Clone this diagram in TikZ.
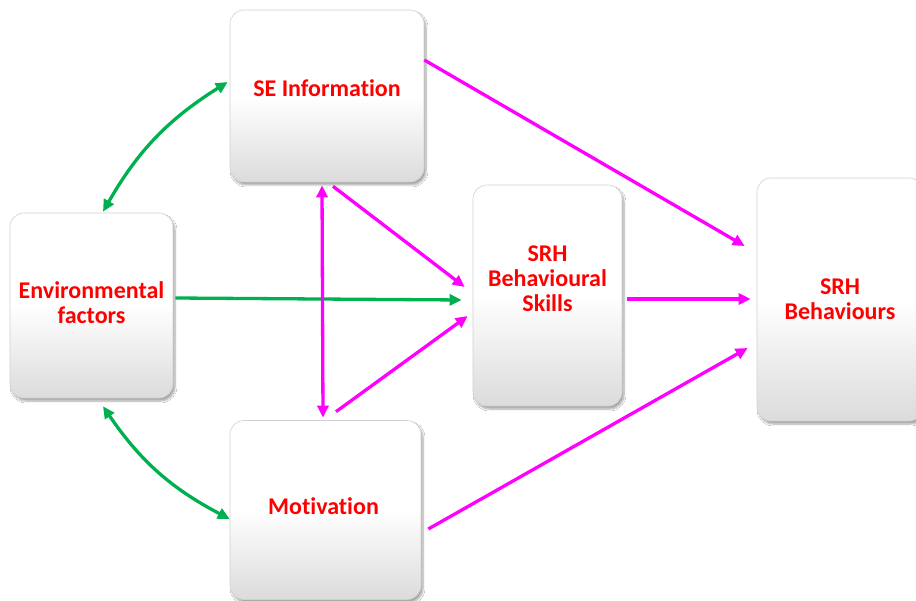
\documentclass[tikz,border=0pt]{standalone}
\usepackage{fontspec}
\setmainfont{Carlito}[Ligatures=NoCommon]
\usetikzlibrary{arrows.meta,shadows.blur}
\definecolor{mag}{RGB}{255,0,255}
\definecolor{grn}{RGB}{0,176,80}
\definecolor{txtred}{RGB}{255,0,0}
\begin{document}
\begin{tikzpicture}[x=1pt,y=-1pt,
  box/.style={rectangle, rounded corners=14pt, draw=black!18, line width=0.6pt,
    top color=white, bottom color=black!14, middle color=white,
    blur shadow={shadow xshift=2pt,shadow yshift=-3pt,shadow blur steps=6,shadow opacity=35},
    inner sep=0pt},
  lbl/.style={font=\fontsize{24}{25}\selectfont\bfseries, text=txtred, align=center, inner sep=0pt},
  >={Triangle[length=12pt,width=11pt]},
  mline/.style={draw=mag, line width=3.3pt},
  gline/.style={draw=grn, line width=3.3pt}]
\useasboundingbox (0,0) rectangle (916,601);
\clip (0,0) rectangle (916,601);
\fill[white] (0,0) rectangle (916,601);

% boxes
\node[box, minimum width=194pt, minimum height=172pt] (se) at (327,96) {};
\node[box, minimum width=163pt, minimum height=185pt] (env) at (91.5,305.5) {};
\node[box, minimum width=149pt, minimum height=221pt] (skills) at (547.5,295.5) {};
\node[box, minimum width=166pt, minimum height=243pt] (beh) at (840,299.5) {};
\node[box, minimum width=191pt, minimum height=179pt] (mot) at (325.5,510) {};

% labels
\node[lbl] (seT) at ([yshift=8pt]se.center) {SE Information};
\node[lbl] (envT) at ([yshift=3pt]env.center) {Environmental\\factors};
\node[lbl] (skillsT) at ([yshift=17pt]skills.center) {SRH\\Behavioural\\Skills};
\node[lbl] (behT) at ([yshift=0pt]beh.center) {SRH\\Behaviours};
\node[lbl] (motT) at ([xshift=-2pt,yshift=4pt]mot.center) {Motivation};

% green connectors
\draw[gline, <->] ([xshift=11.5pt,yshift=1pt]env.north) to[bend left=14] ([xshift=-2pt,yshift=14pt]se.west);
\draw[gline, <->] ([xshift=11.5pt,yshift=-8pt]env.south) to[bend right=14] ([yshift=-9pt]mot.west);
\draw[gline, ->] ([xshift=2pt,yshift=7.5pt]env.east) -- ([xshift=-11pt,yshift=-4.5pt]skills.west);

% magenta connectors
\draw[mline, ->] ([yshift=36pt]se.east) -- ([xshift=-12pt,yshift=53.5pt]beh.west);
\draw[mline, ->] ([xshift=6pt,yshift=-4pt]se.south) -- ([xshift=-8pt,yshift=8.5pt]skills.west);
\draw[mline, <->] ([xshift=-5pt,yshift=-3pt]se.south) -- ([xshift=-2.5pt,yshift=2.5pt]mot.north);
\draw[mline, ->] ([xshift=10.5pt,yshift=8.5pt]mot.north) -- ([xshift=-5pt,yshift=-20.5pt]skills.west);
\draw[mline, ->] ([xshift=5pt,yshift=-3.5pt]skills.east) -- ([xshift=-6pt,yshift=0.5pt]beh.west);
\draw[mline, ->] ([xshift=7pt,yshift=-19pt]mot.east) -- ([xshift=-9pt,yshift=-48.5pt]beh.west);
\end{tikzpicture}
\end{document}
